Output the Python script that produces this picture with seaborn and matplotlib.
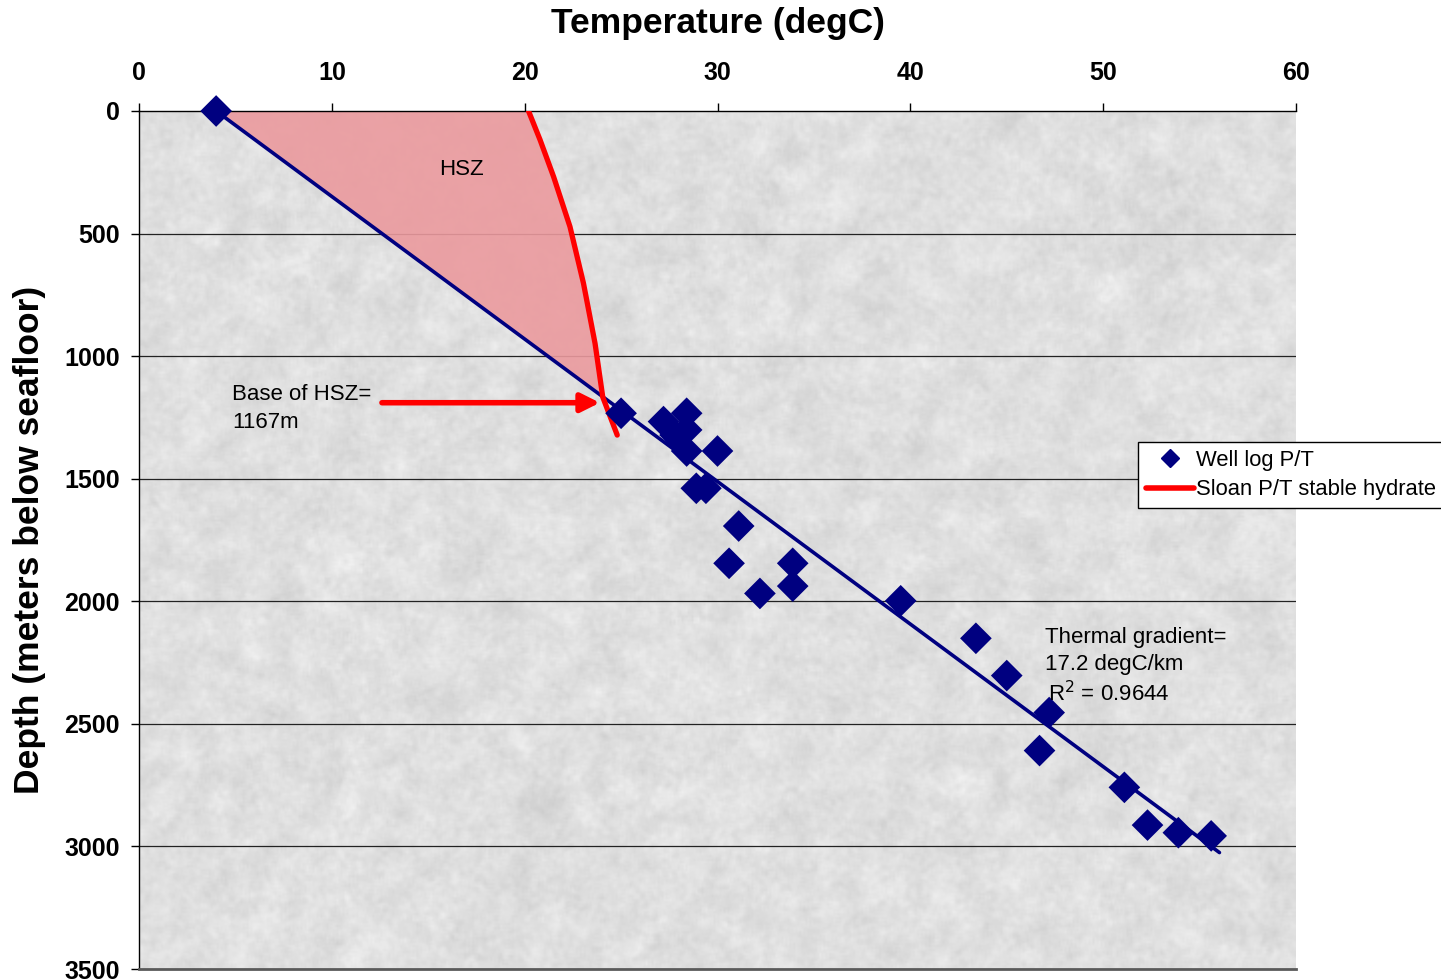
import numpy as np
import pandas as pd
import matplotlib
matplotlib.use("Agg")
import matplotlib.pyplot as plt
from matplotlib.lines import Line2D
import seaborn as sns

# Well log temperature (degC) vs depth (m below seafloor)
well_temp = [4.0, 25.0, 27.2, 28.4, 28.4, 27.8, 28.4, 30.0, 28.9, 29.4,
             31.1, 30.6, 33.9, 33.9, 32.2, 39.5, 43.4, 45.0, 47.2, 46.7,
             51.1, 52.3, 53.9, 55.6]
well_depth = [0, 1233, 1267, 1233, 1301, 1322, 1387, 1387, 1539, 1539,
              1693, 1845, 1845, 1938, 1968, 1998, 2151, 2303, 2454, 2609,
              2759, 2913, 2944, 2957]

# Sloan hydrate stability boundary
sloan_temp = [20.2, 20.8, 21.5, 22.35, 23.05, 23.65, 24.05, 24.8]
sloan_depth = [0, 118, 268, 472, 703, 948, 1167, 1322]

# Linear thermal gradient fit
surface_temp = 4.0        # degC at seafloor
gradient = 17.2           # degC/km
r_squared = 0.9644
hsz_base = 1167           # m
trend_depth = [0, 3025]

x_ticks = [0, 10, 20, 30, 40, 50, 60]
y_ticks = [0, 500, 1000, 1500, 2000, 2500, 3000, 3500]

well = pd.DataFrame({"temp": well_temp, "depth": well_depth})
sloan = pd.DataFrame({"temp": sloan_temp, "depth": sloan_depth})
trend = pd.DataFrame({"depth": trend_depth})
trend["temp"] = surface_temp + gradient / 1000.0 * trend["depth"]

sns.set_theme(style="white")
plt.rcParams["font.family"] = ["Liberation Sans", "DejaVu Sans"]
plt.rcParams["text.color"] = "black"
plt.rcParams["axes.labelcolor"] = "black"
plt.rcParams["xtick.color"] = "black"
plt.rcParams["ytick.color"] = "black"

fig = plt.figure(figsize=(14.41, 9.8), dpi=100)
ax = fig.add_axes([139 / 1441, 11 / 980, 1157 / 1441, 858 / 980])

# textured grey backdrop for the plot area
rng = np.random.default_rng(7)


def smooth(a, n, passes):
    k = np.ones(n) / n
    for _ in range(passes):
        a = np.apply_along_axis(lambda r: np.convolve(r, k, mode="same"), 1, a)
        a = np.apply_along_axis(lambda c: np.convolve(c, k, mode="same"), 0, a)
    return a


coarse = smooth(rng.normal(size=(430, 580)), 9, 2)
mid = smooth(rng.normal(size=(430, 580)), 3, 1)
tex = coarse / coarse.std() * 0.6 + mid / mid.std() * 0.5
tex = 0.875 + 0.021 * tex
ax.imshow(tex, cmap="gray", vmin=0, vmax=1, extent=[0, 60, 3500, 0],
          aspect="auto", zorder=0, interpolation="bilinear")

ax.set_xlim(0, 60)
ax.set_ylim(3500, 0)

# horizontal gridlines
for yv in y_ticks[1:-1]:
    ax.axhline(yv, color="#222222", lw=0.9, zorder=1)

# hydrate stability zone polygon
t_base = surface_temp + gradient / 1000.0 * hsz_base
poly_t = [surface_temp] + [t for t, d in zip(sloan_temp, sloan_depth) if d < hsz_base] + [t_base]
poly_d = [0] + [d for d in sloan_depth if d < hsz_base] + [hsz_base]
ax.fill(poly_t, poly_d, facecolor="#eb9a9e", edgecolor="black", lw=1.0,
        alpha=0.9, zorder=2)

# trend line and data
sns.lineplot(data=trend, x="temp", y="depth", sort=False, color="#000080",
             lw=2.6, ax=ax, zorder=3)
sns.lineplot(data=sloan, x="temp", y="depth", sort=False, color="#ff0000",
             lw=3.8, ax=ax, zorder=4)
sns.scatterplot(data=well, x="temp", y="depth", marker="D", s=260,
                color="#000080", edgecolor="none", ax=ax, zorder=5)
ax.collections[-1].set_clip_on(False)

# arrow pointing at base of HSZ
ax.annotate("", xy=(23.9, 1190), xytext=(12.6, 1190),
            arrowprops=dict(arrowstyle="-|>", color="#ff0000", lw=4,
                            mutation_scale=28, shrinkA=0, shrinkB=0),
            zorder=6)

fs = 16
ax.text(16.75, 237, "HSZ", fontsize=fs, ha="center", va="center", zorder=6)
ax.text(4.82, 1179, "Base of HSZ=", fontsize=fs, ha="left", va="baseline", zorder=6)
ax.text(4.82, 1293, f"{hsz_base}m", fontsize=fs, ha="left", va="baseline", zorder=6)
ax.text(46.98, 2170, "Thermal gradient=", fontsize=fs, ha="left",
        va="baseline", zorder=6)
ax.text(46.98, 2280, f"{gradient} degC/km", fontsize=fs, ha="left",
        va="baseline", zorder=6)
ax.text(47.15, 2407, r"R$^2$ = " + f"{r_squared}", fontsize=fs, ha="left",
        va="baseline", zorder=6)

# axes styling
ax.xaxis.tick_top()
ax.xaxis.set_label_position("top")
ax.set_xticks(x_ticks)
ax.set_yticks(y_ticks)
ax.tick_params(axis="x", direction="out", length=6, width=1, pad=13,
               labelsize=18, top=True, bottom=False, colors="black")
ax.tick_params(axis="y", direction="out", length=6, width=1, pad=8,
               labelsize=18, left=True, colors="black")
for lab in ax.get_xticklabels() + ax.get_yticklabels():
    lab.set_fontweight("bold")
ax.set_xlabel("")
ax.set_ylabel("")
ax.grid(False)
for side in ("left", "top"):
    ax.spines[side].set_color("black")
    ax.spines[side].set_linewidth(1.0)
ax.spines["right"].set_visible(False)
ax.spines["bottom"].set_color("#5a5a5a")
ax.spines["bottom"].set_linewidth(2.0)

fig.text(718 / 1441, 1 - 23 / 980, "Temperature (degC)", fontsize=25.5,
         fontweight="bold", ha="center", va="center")
fig.text(30 / 1441, 1 - 540 / 980, "Depth (meters below seafloor)", fontsize=25.5,
         fontweight="bold", ha="center", va="center", rotation=90)

handles = [
    Line2D([], [], marker="D", ls="none", color="#000080", markersize=9),
    Line2D([], [], color="#ff0000", lw=4),
]
leg = fig.legend(handles, ["Well log P/T", "Sloan P/T stable hydrate"],
                 loc="upper left", bbox_to_anchor=(1138 / 1441, 1 - 442 / 980),
                 fontsize=15.8, frameon=True, fancybox=False, framealpha=1,
                 edgecolor="black", handlelength=2.2, handletextpad=0.1,
                 borderpad=0.35, labelspacing=0.4, borderaxespad=0)
leg.get_frame().set_linewidth(1.0)

fig.savefig("out.png", dpi=100)
